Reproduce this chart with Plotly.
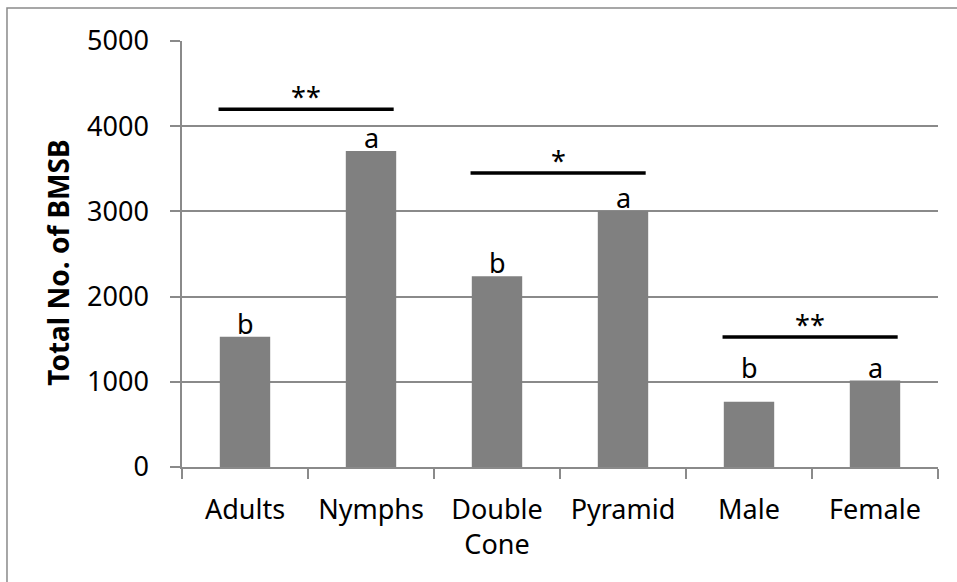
import plotly.graph_objects as go

# Trap catches of brown marmorated stink bug (BMSB) by life stage, trap type and sex
categories = ["Adults", "Nymphs", "Double<br>Cone", "Pyramid", "Male", "Female"]
totals = [1530, 3710, 2240, 3005, 765, 1015]
letters = ["b", "a", "b", "a", "b", "a"]
# letters of the Male/Female pair sit on one common level
letter_heights = [1530, 3710, 2240, 3005, 1015, 1015]

# significance brackets between paired bars
pair_first = [0, 2, 4]
pair_second = [1, 3, 5]
bracket_heights = [4200, 3450, 1525]
stars = ["**", "*", "**"]

y_ticks = [0, 1000, 2000, 3000, 4000, 5000]

FONT = "Noto Sans"
GRID = "#8a8a8a"

fig = go.Figure()
fig.add_trace(go.Bar(
    x=list(range(len(categories))),
    y=totals,
    width=0.4,
    marker=dict(color="#808080", line=dict(width=0)),
    hoverinfo="skip",
))

annotations = []
for i, (v, t) in enumerate(zip(letter_heights, letters)):
    annotations.append(dict(
        x=i, y=v, xref="x", yref="y", text=t, showarrow=False,
        yanchor="bottom", yshift=-7,
        font=dict(family=FONT, size=27, color="black"),
    ))

shapes = []
for a, b, h, s in zip(pair_first, pair_second, bracket_heights, stars):
    x0, x1 = a - 0.21, b + 0.18
    shapes.append(dict(
        type="line", xref="x", yref="y", x0=x0, x1=x1, y0=h, y1=h,
        line=dict(color="black", width=3.5),
    ))
    annotations.append(dict(
        x=(x0 + x1) / 2, y=h, xref="x", yref="y", text=s, showarrow=False,
        yanchor="bottom", yshift=-8,
        font=dict(family=FONT, size=27, color="black"),
    ))

# y-axis title
annotations.append(dict(
    x=-0.165, y=0.48, xref="paper", yref="paper", text="<b>Total No. of BMSB</b>",
    textangle=-90, showarrow=False, xanchor="center", yanchor="middle",
    font=dict(family=FONT, size=28, color="black"),
))

# outer frame of the chart
shapes.append(dict(
    type="rect", xref="paper", yref="paper",
    x0=-0.2315, x1=1.2, y0=-0.6, y1=1.0774,
    line=dict(color="#8a8a8a", width=1.5), fillcolor="rgba(0,0,0,0)", layer="below",
))

fig.update_layout(
    width=957, height=582,
    margin=dict(l=182, r=19, t=41, b=114.5),
    paper_bgcolor="white", plot_bgcolor="white",
    showlegend=False,
    annotations=annotations,
    shapes=shapes,
    font=dict(family=FONT, color="black"),
)
fig.update_xaxes(
    range=[-0.5, len(categories) - 0.5],
    tickmode="array",
    tickvals=list(range(len(categories))),
    ticktext=categories,
    tickfont=dict(family=FONT, size=27, color="black"),
    showline=True, linecolor=GRID, linewidth=1.5,
    ticks="", showgrid=False, zeroline=False, ticklabelstandoff=18,
    minor=dict(ticks="outside", tickvals=[i + 0.5 for i in range(-1, len(categories))],
               ticklen=10, tickcolor=GRID, tickwidth=1.5),
)
fig.update_yaxes(
    range=[0, 5000],
    tickmode="array", tickvals=y_ticks,
    tickfont=dict(family=FONT, size=27, color="black"),
    showline=True, linecolor=GRID, linewidth=1.5,
    ticks="outside", ticklen=10, tickcolor=GRID, tickwidth=1.5,
    showgrid=True, gridcolor=GRID, gridwidth=1.5,
    zeroline=False, ticklabelstandoff=16,
)

fig.write_html("out.html")
